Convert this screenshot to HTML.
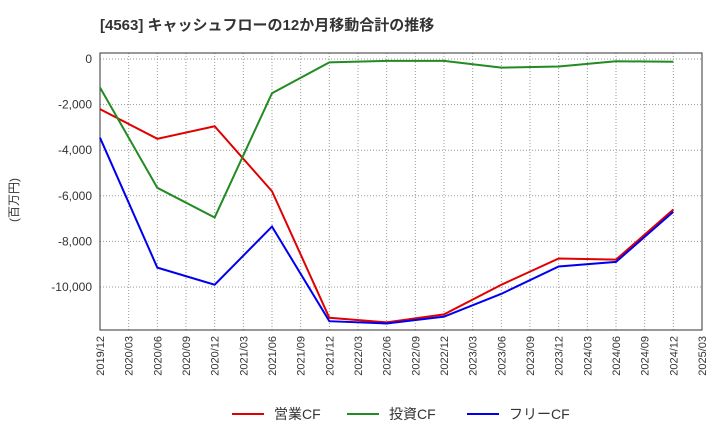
<!DOCTYPE html>
<html><head><meta charset="utf-8"><style>
body{margin:0;background:#fff;font-family:"Liberation Sans","Noto Sans CJK JP",sans-serif}
</style></head><body>
<svg id="c" width="720" height="440" xmlns="http://www.w3.org/2000/svg">
<text x="100" y="30" font-size="15" font-weight="bold" fill="#333" font-family="Liberation Sans, Noto Sans CJK JP, sans-serif">[4563]  キャッシュフローの12か月移動合計の推移</text>
<text transform="translate(18,200) rotate(-90)" font-size="12" fill="#333" text-anchor="middle" font-family="Liberation Sans, Noto Sans CJK JP, sans-serif">(百万円)</text>
<g id="grid"></g><g id="axes"></g><g id="series"></g><g id="legend"></g>
</svg>
<script>
const categories=["2019/12","2020/06","2020/12","2021/06","2021/12","2022/06","2022/12","2023/06","2023/12","2024/06","2024/12"];
const operatingCF=[-2200,-3500,-2950,-5800,-11350,-11550,-11200,-9900,-8750,-8800,-6600];
const investingCF=[-1250,-5650,-6950,-1500,-150,-80,-80,-380,-330,-100,-120];
const freeCF=[-3450,-9150,-9900,-7350,-11500,-11600,-11300,-10300,-9100,-8900,-6700];
const xTickLabels=["2019/12","2020/03","2020/06","2020/09","2020/12","2021/03","2021/06","2021/09","2021/12","2022/03","2022/06","2022/09","2022/12","2023/03","2023/06","2023/09","2023/12","2024/03","2024/06","2024/09","2024/12","2025/03"];
const yTicks=[0,-2000,-4000,-6000,-8000,-10000];
const NS="http://www.w3.org/2000/svg";
const L=100,R=702,T=53,B=330;
function qIndex(lbl){const [y,m]=lbl.split("/").map(Number);return (y-2019)*4+(m-12)/3;}
const x=lbl=>L+qIndex(lbl)*(R-L)/21;
const y=v=>59+(-v)*(45.6/2000);
function mk(tag,attrs,parent){const e=document.createElementNS(NS,tag);for(const k in attrs)e.setAttribute(k,attrs[k]);document.getElementById(parent).appendChild(e);return e;}
const fmt=v=>v===0?"0":"-"+Math.abs(v).toLocaleString("en-US");
xTickLabels.forEach(l=>{
 const g=mk("line",{x1:x(l),x2:x(l),y1:T,y2:B,stroke:"#999","stroke-dasharray":"1,2","stroke-width":1},"grid");
 
 
 const t=mk("text",{transform:`translate(${x(l)+4},${B+6}) rotate(-90)`,"text-anchor":"end","font-size":11,fill:"#333"},"axes");
 t.textContent=l;
 
 
});
yTicks.forEach(v=>{
 const g=mk("line",{x1:L,x2:R,y1:y(v),y2:y(v),stroke:"#999","stroke-dasharray":"1,2","stroke-width":1},"grid");
 
 
 const t=mk("text",{x:L-8,y:y(v)+4,"text-anchor":"end","font-size":12,fill:"#333"},"axes");
 t.textContent=fmt(v);
 
 
});
const fr=mk("rect",{x:L,y:T,width:R-L,height:B-T,fill:"none",stroke:"#333","stroke-width":1},"axes");


const series=[["operating-cf-line",operatingCF,"#e00000","営業CF"],["investing-cf-line",investingCF,"#228b22","投資CF"],["free-cf-line",freeCF,"#0000ee","フリーCF"]];
series.forEach(([n,d,c])=>{
 const p=mk("polyline",{points:d.map((v,i)=>x(categories[i])+","+y(v)).join(" "),fill:"none",stroke:c,"stroke-width":2},"series");
 
 
});
const lx=[232,347,467];
series.forEach(([n,d,c,lab],i)=>{
 const ln=mk("line",{x1:lx[i],x2:lx[i]+32,y1:414,y2:414,stroke:c,"stroke-width":2},"legend");
 
 
 const t=mk("text",{x:lx[i]+42,y:419,"font-size":14,fill:"#333"},"legend");
 t.textContent=lab;
 
 
});
</script>
</body></html>
